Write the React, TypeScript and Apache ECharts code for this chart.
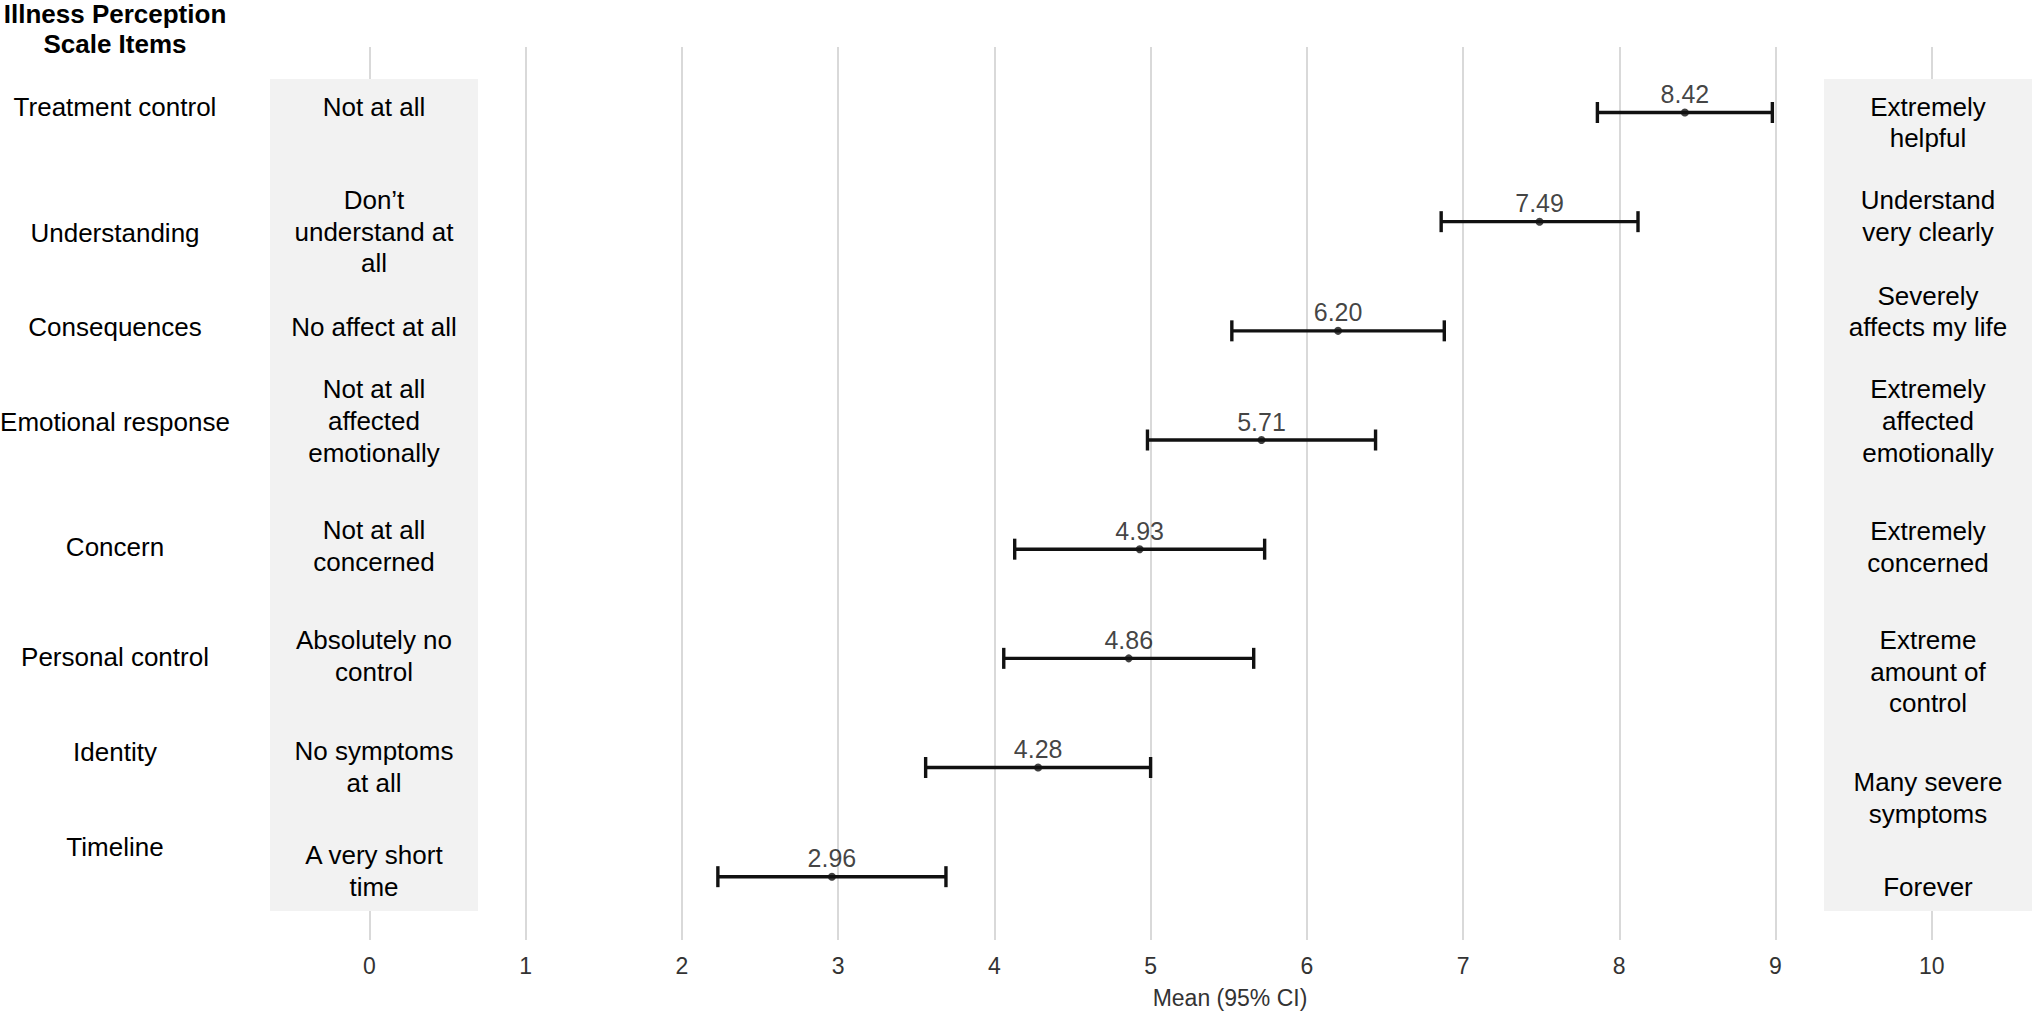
import React, { useEffect, useRef } from "react";
import * as echarts from "echarts";

// ---- data ----
const items = [
  "Treatment control",
  "Understanding",
  "Consequences",
  "Emotional response",
  "Concern",
  "Personal control",
  "Identity",
  "Timeline",
];
const means = [8.42, 7.49, 6.2, 5.71, 4.93, 4.86, 4.28, 2.96];
const ciLow = [7.86, 6.86, 5.52, 4.98, 4.13, 4.06, 3.56, 2.23];
const ciHigh = [8.98, 8.12, 6.88, 6.44, 5.73, 5.66, 5.0, 3.69];
const lowAnchors = [
  "Not at all",
  "Don\u2019t\nunderstand at\nall",
  "No affect at all",
  "Not at all\naffected\nemotionally",
  "Not at all\nconcerned",
  "Absolutely no\ncontrol",
  "No symptoms\nat all",
  "A very short\ntime",
];
const highAnchors = [
  "Extremely\nhelpful",
  "Understand\nvery clearly",
  "Severely\naffects my life",
  "Extremely\naffected\nemotionally",
  "Extremely\nconcerned",
  "Extreme\namount of\ncontrol",
  "Many severe\nsymptoms",
  "Forever",
];
const xTicks = [0, 1, 2, 3, 4, 5, 6, 7, 8, 9, 10];
const titleText = "Illness Perception\nScale Items";
const axisTitle = "Mean (95% CI)";

// ---- layout (pixel positions of free-standing text columns) ----
const itemLabelY = [106.7, 233.3, 326.7, 421.7, 547.3, 656.7, 751.7, 846.7];
const lowAnchorY = [106.7, 231.7, 326.7, 421, 546, 656, 767, 871];
const highAnchorY = [122.5, 216, 311.5, 421, 546.7, 671.5, 798.3, 886.7];

const FONT = '"Liberation Sans", Arial, Helvetica, sans-serif';
const LH = 31.7;

export default function App() {
  const ref = useRef<HTMLDivElement>(null);
  useEffect(() => {
    if (!ref.current) return;
    const chart = echarts.init(ref.current, undefined, { renderer: "svg" });

    const barData = items.map((_, i) => [i, ciLow[i], ciHigh[i], means[i]]);
    const pointData = items.map((_, i) => [means[i], i]);

    const txt = (
      text: string,
      x: number,
      y: number,
      size: number,
      weight = "normal",
      fill = "#000",
      lineHeight = LH
    ) => ({
      type: "text",
      z: 5,
      style: {
        text,
        x,
        y,
        font: `${weight} ${size}px ${FONT}`,
        fontSize: size,
        fontWeight: weight,
        fontFamily: FONT,
        lineHeight,
        align: "center",
        textAlign: "center",
        verticalAlign: "middle",
        textVerticalAlign: "middle",
        fill,
      },
    });

    const graphics: any[] = [
      { type: "rect", z: 1, shape: { x: 270, y: 79, width: 208, height: 832 }, style: { fill: "#f2f2f2" } },
      { type: "rect", z: 1, shape: { x: 1824, y: 79, width: 208, height: 832 }, style: { fill: "#f2f2f2" } },
      txt(titleText, 115, 28.5, 26, "bold", "#000", 30),
      txt(axisTitle, 1230, 998, 23, "normal", "#333"),
    ];
    items.forEach((t, i) => graphics.push(txt(t, 115, itemLabelY[i], 26)));
    lowAnchors.forEach((t, i) => graphics.push(txt(t, 374, lowAnchorY[i], 26)));
    highAnchors.forEach((t, i) => graphics.push(txt(t, 1928, highAnchorY[i], 26)));

    chart.setOption({
      animation: false,
      grid: { left: 369.5, right: 100.3, top: 47, bottom: 80, containLabel: false },
      xAxis: {
        type: "value",
        min: xTicks[0],
        max: xTicks[xTicks.length - 1],
        interval: 1,
        axisLine: { show: false },
        axisTick: { show: false },
        axisLabel: { fontSize: 23, color: "#333", margin: 14, fontFamily: FONT },
        splitLine: { show: true, lineStyle: { color: "#d9d9d9", width: 2 } },
      },
      yAxis: {
        type: "value",
        inverse: true,
        min: -0.6,
        max: 7.58,
        show: false,
        splitLine: { show: false },
      },
      graphic: { elements: graphics },
      series: [
        {
          type: "custom",
          z: 3,
          data: barData,
          encode: { x: [1, 2], y: 0 },
          renderItem: (params: any, api: any) => {
            const row = api.value(0);
            const a = api.coord([api.value(1), row]);
            const b = api.coord([api.value(2), row]);
            const h = 10.5;
            const st = { stroke: "#111", lineWidth: 3.4 };
            return {
              type: "group",
              children: [
                { type: "line", shape: { x1: a[0], y1: a[1], x2: b[0], y2: b[1] }, style: st },
                { type: "line", shape: { x1: a[0], y1: a[1] - h, x2: a[0], y2: a[1] + h }, style: st },
                { type: "line", shape: { x1: b[0], y1: b[1] - h, x2: b[0], y2: b[1] + h }, style: st },
              ],
            };
          },
        },
        {
          type: "scatter",
          z: 4,
          data: pointData,
          symbol: "circle",
          symbolSize: 8,
          itemStyle: { color: "#111" },
          label: {
            show: true,
            position: "top",
            distance: 2,
            fontSize: 25,
            fontFamily: FONT,
            color: "#111",
            formatter: (p: any) => Number(p.value[0]).toFixed(2),
          },
        },
      ],
    });
    return () => chart.dispose();
  }, []);
  return <div ref={ref} style={{ position: "absolute", left: 0, top: 0, width: 2032, height: 1020 }} />;
}
